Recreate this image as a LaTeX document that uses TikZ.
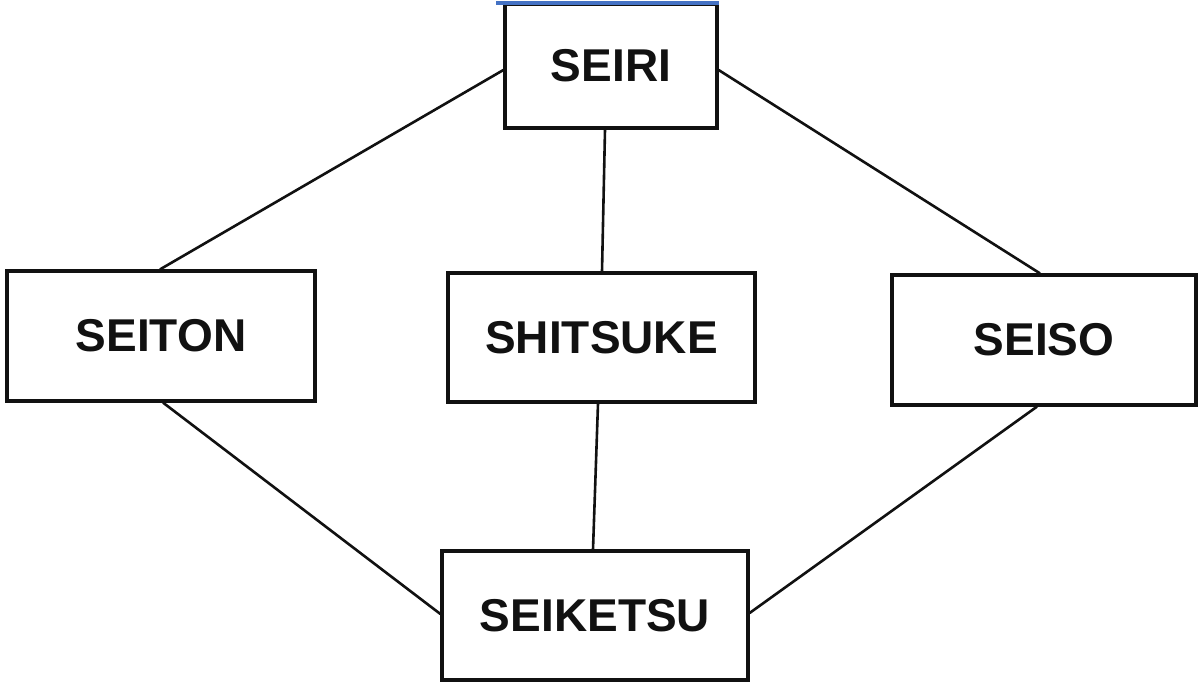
\documentclass[tikz,border=0pt]{standalone}
\usepackage{fontspec}
\setmainfont{Liberation Sans}
\definecolor{ink}{HTML}{111111}
\definecolor{topblue}{HTML}{4472C4}
\begin{document}
\begin{tikzpicture}[x=1pt,y=-1pt,
  sbox/.style={draw=ink, line width=3.2pt, inner sep=0pt, fill=white,
    font=\fontsize{46}{50}\selectfont\bfseries, text=ink},
  conn/.style={draw=ink, line width=2.6pt}]
\useasboundingbox (0,0) rectangle (1199,685);
\node[sbox, minimum width=212pt, minimum height=124pt] (seiri) at (611,66) {SEIRI};
\node[sbox, minimum width=308pt, minimum height=130pt] (seiton) at (161,336) {SEITON};
\node[sbox, minimum width=307pt, minimum height=129pt] (shitsuke) at (601.5,337.5) {SHITSUKE};
\node[sbox, minimum width=304pt, minimum height=130pt] (seiso) at (1044,340) {SEISO};
\node[sbox, minimum width=306pt, minimum height=129pt] (seiketsu) at (595,615.5) {SEIKETSU};
\coordinate (bl) at (496,3);
\coordinate (br) at (719,3);
\draw[topblue, line width=3.5pt] (bl) -- (br);
\draw[conn] ([yshift=-4pt]seiri.west) -- ([xshift=-1pt]seiton.north);
\draw[conn] ([yshift=-4pt]seiri.east) -- ([xshift=-4pt]seiso.north);
\draw[conn] ([xshift=-6pt]seiri.south) -- ([xshift=0.5pt]shitsuke.north);
\draw[conn] ([xshift=-3.5pt]shitsuke.south) -- ([xshift=-2pt]seiketsu.north);
\draw[conn] ([xshift=2pt]seiton.south) -- ([yshift=1.5pt]seiketsu.west);
\draw[conn] ([xshift=-7pt]seiso.south) -- ([yshift=2.5pt]seiketsu.east);
\end{tikzpicture}
\end{document}
